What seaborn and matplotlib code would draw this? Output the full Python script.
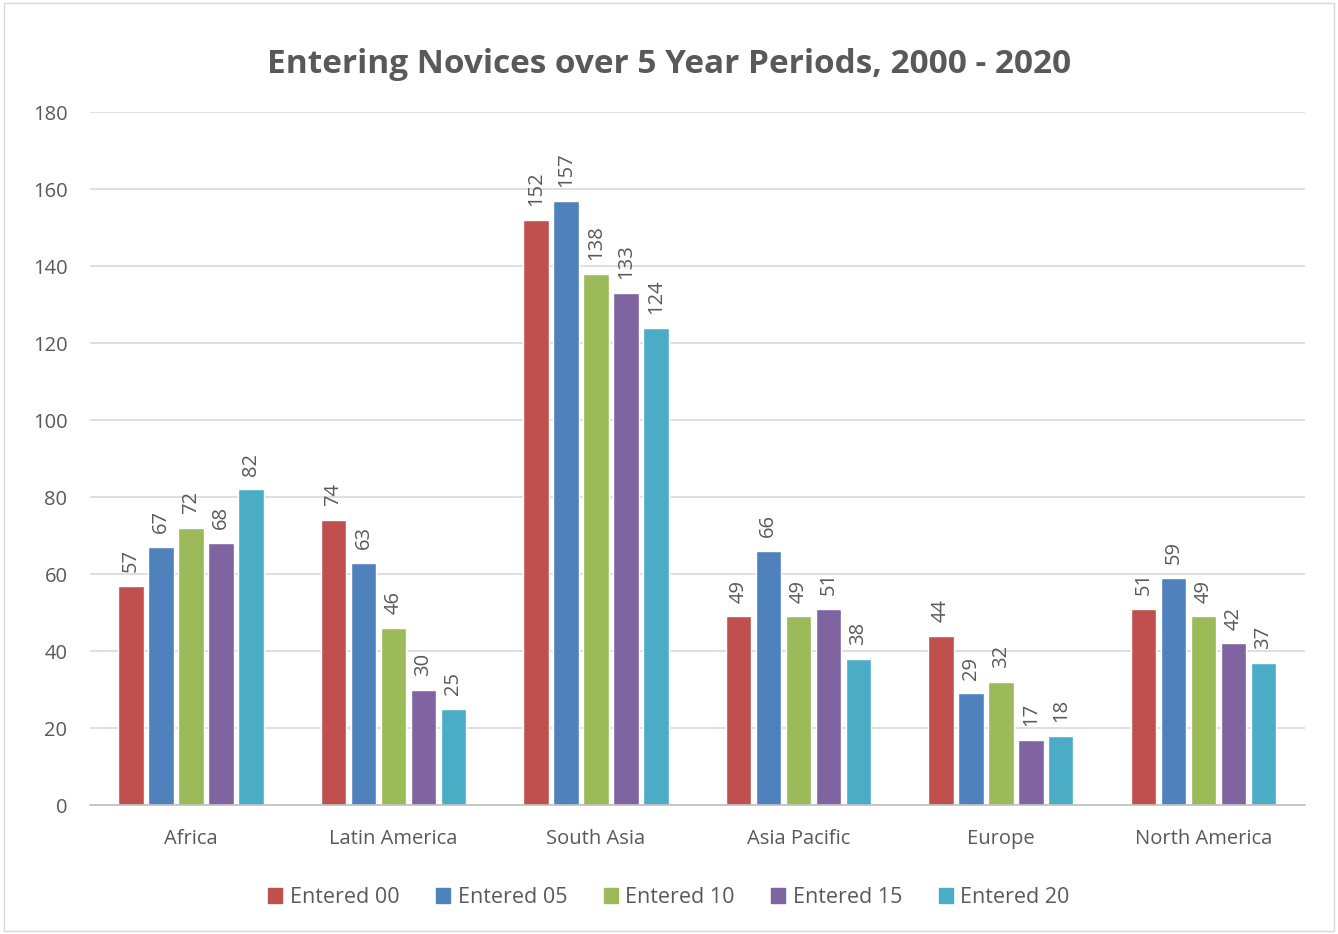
import pandas as pd
import seaborn as sns
import matplotlib.pyplot as plt

regions = ['Africa', 'Latin America', 'South Asia', 'Asia Pacific', 'Europe', 'North America']
periods = ['Entered 00', 'Entered 05', 'Entered 10', 'Entered 15', 'Entered 20']
entered_00 = [57, 74, 152, 49, 44, 51]
entered_05 = [67, 63, 157, 66, 29, 59]
entered_10 = [72, 46, 138, 49, 32, 49]
entered_15 = [68, 30, 133, 51, 17, 42]
entered_20 = [82, 25, 124, 38, 18, 37]
colors = ['#C0504D', '#4F81BD', '#9BBB59', '#8064A2', '#4BACC6']

# 整理成长表
series = [entered_00, entered_05, entered_10, entered_15, entered_20]
rows = []
for period, vals in zip(periods, series):
    for region, v in zip(regions, vals):
        rows.append({'region': region, 'period': period, 'count': v})
df = pd.DataFrame(rows)

sns.set_theme(style="white")
plt.rcParams['font.family'] = ['Open Sans', 'DejaVu Sans']
text_col = '#595959'

fig = plt.figure(figsize=(13.38, 9.34), dpi=100)
ax = fig.add_axes([0.067, 0.138, 0.908, 0.742])

sns.barplot(data=df, x='region', y='count', hue='period', order=regions,
            hue_order=periods, palette=colors, width=0.74, gap=0.15,
            saturation=1, ax=ax, legend=True)

# 柱子上方标注数值（竖排）
for cont in ax.containers:
    ax.bar_label(cont, rotation=90, padding=10, fontsize=14.5, color=text_col)

ax.set_ylim(0, 180)
ax.set_yticks(range(0, 181, 20))
ax.grid(axis='y', color='#D9D9D9', linewidth=1.2)
ax.set_axisbelow(True)
for s in ['top', 'right', 'left']:
    ax.spines[s].set_visible(False)
ax.spines['bottom'].set_color('#BFBFBF')
ax.spines['bottom'].set_linewidth(1.2)
ax.tick_params(axis='x', length=0, labelsize=14.5, colors=text_col, pad=17)
ax.tick_params(axis='y', length=0, labelsize=14.5, colors=text_col, pad=16)
ax.set_xlabel('')
ax.set_ylabel('')
ax.set_xlim(-0.5, 5.5)

fig.text(0.5, 0.931, 'Entering Novices over 5 Year Periods, 2000 - 2020',
         ha='center', va='center', fontsize=24, fontweight='bold', color=text_col)

ax.legend_.remove()
handles = [plt.Rectangle((0, 0), 1, 1, color=c) for c in colors]
fig.legend(handles, periods, loc='center', bbox_to_anchor=(0.5, 0.039), ncol=5,
           frameon=False, fontsize=15.5, labelcolor=text_col, handlelength=0.65,
           handleheight=0.65, handletextpad=0.35, columnspacing=1.7)

# 外框
fig.patches.append(plt.Rectangle((0.003, 0.003), 0.994, 0.994, transform=fig.transFigure,
                                 fill=False, edgecolor='#D9D9D9', linewidth=1))

plt.savefig('out.png', dpi=100)
